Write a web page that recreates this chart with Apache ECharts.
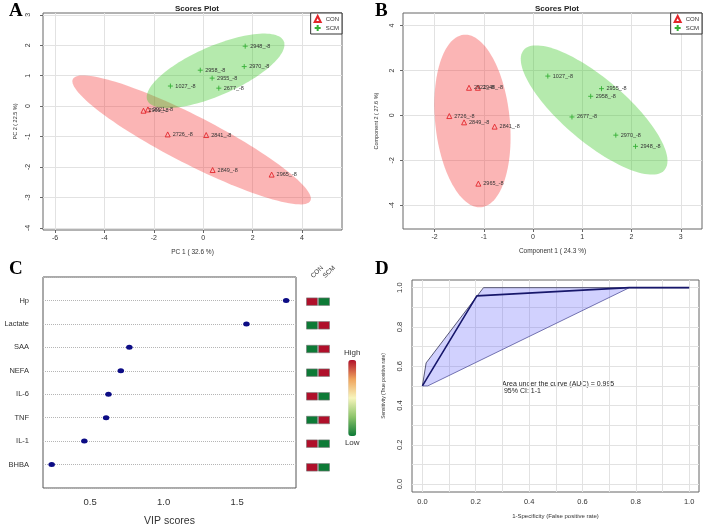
<!DOCTYPE html>
<html>
<head>
<meta charset="utf-8">
<script src="https://cdn.jsdelivr.net/npm/echarts@6/dist/echarts.min.js"></script>
<style>
html, body { margin: 0; padding: 0; background: #fff; }
#main { width: 703px; height: 528px; }
</style>
</head>
<body>
<div id="main"></div>
<script>
// A: PCA scores plot
var pcaConNames = ['2961_-8', '2921_-8', '2726_-8', '2841_-8', '2849_-8', '2965_-8'];
var pcaConX = [-2.42, -2.24, -1.44, 0.12, 0.38, 2.77];
var pcaConY = [-0.15, -0.11, -0.93, -0.95, -2.10, -2.25];
var pcaScmNames = ['2948_-8', '2970_-8', '2958_-8', '2955_-8', '1027_-8', '2677_-8'];
var pcaScmX = [1.70, 1.66, -0.12, 0.36, -1.33, 0.63];
var pcaScmY = [1.97, 1.30, 1.18, 0.92, 0.66, 0.59];
// ellipse = centre x, centre y, semi axis 1 (dx, dy), semi axis 2 (dx, dy)
var pcaConEll = [-0.47, -1.11, 4.81, -2.00, 0.44, 0.70];
var pcaScmEll = [0.50, 1.16, 2.76, 0.975, 0.40, -0.74];
var pcaXTicks = [-6, -4, -2, 0, 2, 4];
var pcaYTicks = [-4, -3, -2, -1, 0, 1, 2, 3];

// B: PLS-DA scores plot
var plsConNames = ['2921_-8', '2948_-8', '2726_-8', '2849_-8', '2841_-8', '2965_-8'];
var plsConX = [-1.30, -1.12, -1.70, -1.40, -0.78, -1.11];
var plsConY = [1.23, 1.23, -0.03, -0.31, -0.50, -3.04];
var plsScmNames = ['1027_-8', '2955_-8', '2958_-8', '2677_-8', '2970_-8', '2948_-8'];
var plsScmX = [0.30, 1.39, 1.17, 0.79, 1.68, 2.08];
var plsScmY = [1.75, 1.19, 0.85, -0.07, -0.88, -1.38];
var plsConEll = [-1.23, -0.25, 0.179, -3.84, 0.753, 0.169];
var plsScmEll = [1.24, 0.24, 1.43, -2.67, 0.416, 1.074];
var plsXTicks = [-2, -1, 0, 1, 2, 3];
var plsYTicks = [-4, -2, 0, 2, 4];

// C: VIP scores
var vipNames = ['Hp', 'Lactate', 'SAA', 'NEFA', 'IL-6', 'TNF', 'IL-1', 'BHBA'];
var vipScores = [1.833, 1.563, 0.767, 0.709, 0.625, 0.609, 0.461, 0.239];
var heatCon = [1, -1, -1, -1, 1, -1, 1, 1];
var heatScm = [-1, 1, 1, 1, -1, 1, -1, -1];
var groups = ['CON', 'SCM'];
var vipTicks = [0.5, 1.0, 1.5];

// D: ROC
var rocFpr = [0, 0.204, 0.776, 1];
var rocTpr = [0.5, 0.958, 1, 1];
var ciUpFpr = [0, 0.014, 0.229, 1];
var ciUpTpr = [0.5, 0.617, 1, 1];
var ciLoFpr = [0, 0.02, 0.776, 1];
var ciLoTpr = [0.5, 0.5, 1, 1];
var rocTicks = [0, 0.2, 0.4, 0.6, 0.8, 1.0];
var rocGrid = [0, 0.1, 0.2, 0.3, 0.4, 0.5, 0.6, 0.7, 0.8, 0.9, 1.0];

var FONT = 'Liberation Sans';
var RED = '#e3262b', GREEN = '#35b035';

function pts(names, xs, ys) {
  return names.map(function (n, i) { return { name: n, value: [xs[i], ys[i]] }; });
}

function ellipse(ai, p, fill) {
  return {
    type: 'custom', xAxisIndex: ai, yAxisIndex: ai, silent: true, z: 1,
    data: [[p[0], p[1]]],
    renderItem: function (params, api) {
      var poly = [];
      for (var i = 0; i < 120; i++) {
        var t = i / 120 * Math.PI * 2;
        poly.push(api.coord([
          p[0] + p[2] * Math.cos(t) + p[4] * Math.sin(t),
          p[1] + p[3] * Math.cos(t) + p[5] * Math.sin(t)
        ]));
      }
      return { type: 'polygon', shape: { points: poly }, style: { fill: fill } };
    }
  };
}

function scoreSeries(ai, name, data) {
  var con = name === 'CON';
  return {
    type: 'scatter', name: name, xAxisIndex: ai, yAxisIndex: ai, z: 3,
    data: data,
    symbol: con ? 'triangle' : 'path://M4,0V8M0,4H8',
    symbolSize: 5,
    itemStyle: { color: 'rgba(0,0,0,0)', borderColor: con ? RED : GREEN, borderWidth: 0.9, opacity: 1 },
    label: { show: true, position: 'right', distance: 2, formatter: '{b}', fontSize: 5.5, color: '#333', fontFamily: FONT },
    emphasis: { disabled: true }
  };
}

function valAxis(gi, min, max, ticks, o) {
  var a = {
    type: 'value', gridIndex: gi, min: min, max: max,
    axisLine: { show: false, onZero: false },
    axisTick: { show: true, length: 3, customValues: ticks, lineStyle: { color: '#666' } },
    axisLabel: { customValues: ticks, fontSize: 7, color: '#333', fontFamily: FONT },
    splitLine: { show: true, lineStyle: { color: '#e2e2e2', width: 1 } },
    nameLocation: 'middle',
    nameTextStyle: { fontSize: 6.5, color: '#333', fontFamily: FONT }
  };
  for (var k in o) {
    if (typeof o[k] === 'object' && a[k]) { for (var j in o[k]) a[k][j] = o[k][j]; }
    else a[k] = o[k];
  }
  return a;
}

var chart = echarts.init(document.getElementById('main'), null, { renderer: 'canvas' });

var heatData = [];
vipNames.forEach(function (n, i) {
  heatData.push([0, i + 1, heatCon[i]]);
  heatData.push([1, i + 1, heatScm[i]]);
});

var fmt1 = function (v) { return v.toFixed(1); };

chart.setOption({
  animation: false,
  backgroundColor: '#fff',
  textStyle: { fontFamily: FONT },
  title: [
    { text: 'Scores Plot', left: 192, top: 0, textAlign: 'center', textStyle: { fontSize: 8, fontWeight: 'bold', color: '#222', fontFamily: FONT } },
    { text: 'Scores Plot', left: 552, top: 0, textAlign: 'center', textStyle: { fontSize: 8, fontWeight: 'bold', color: '#222', fontFamily: FONT } }
  ],
  legend: [
    { data: groups, orient: 'vertical', right: 361, top: 13, itemWidth: 6, itemHeight: 6, itemGap: 1, padding: [2, 3],
      borderColor: '#333', borderWidth: 1, backgroundColor: '#fff', textStyle: { fontSize: 6, color: '#333' }, selectedMode: false },
    { data: groups, orient: 'vertical', right: 1, top: 13, itemWidth: 6, itemHeight: 6, itemGap: 1, padding: [2, 3],
      borderColor: '#333', borderWidth: 1, backgroundColor: '#fff', textStyle: { fontSize: 6, color: '#333' }, selectedMode: false }
  ],
  grid: [
    { left: 43, top: 13, width: 299, height: 217, show: true, borderColor: '#666', borderWidth: 1, backgroundColor: 'transparent' },
    { left: 403, top: 13, width: 299, height: 216, show: true, borderColor: '#666', borderWidth: 1, backgroundColor: 'transparent' },
    { left: 43, top: 277, width: 253, height: 213, show: true, borderColor: '#555', borderWidth: 1, backgroundColor: 'transparent' },
    { left: 306, top: 278, width: 24, height: 213, show: false },
    { left: 412, top: 280, width: 287, height: 212, show: true, borderColor: '#666', borderWidth: 1, backgroundColor: 'transparent' }
  ],
  xAxis: [
    valAxis(0, -6.49, 5.62, pcaXTicks, { name: 'PC 1 ( 32.6 %)', nameGap: 19, axisLabel: { margin: 5 } }),
    valAxis(1, -2.64, 3.43, plsXTicks, { name: 'Component 1 ( 24.3 %)', nameGap: 19, axisLabel: { margin: 5 } }),
    valAxis(2, 0.18, 1.90, vipTicks, {
      name: 'VIP scores', nameGap: 28, nameTextStyle: { fontSize: 10.5, color: '#333' },
      axisTick: { show: false }, splitLine: { show: false },
      axisLabel: { fontSize: 9.5, margin: 9, formatter: fmt1 }
    }),
    { type: 'category', gridIndex: 3, data: groups, position: 'top',
      axisLine: { show: false }, axisTick: { show: false },
      axisLabel: { rotate: 45, interval: 0, hideOverlap: false, fontSize: 6.5, margin: 1, color: '#333', fontFamily: FONT } },
    valAxis(4, -0.039, 1.037, rocGrid, {
      name: '1-Specificity (False positive rate)', nameGap: 21, nameTextStyle: { fontSize: 6 },
      axisTick: { show: false },
      axisLabel: { customValues: rocTicks, fontSize: 7.5, margin: 6, formatter: fmt1 }
    })
  ],
  yAxis: [
    valAxis(0, -4.07, 3.06, pcaYTicks, { name: 'PC 2 ( 22.5 %)', nameGap: 25, nameTextStyle: { fontSize: 5.5 }, axisLabel: { rotate: 90, margin: 11 } }),
    valAxis(1, -5.06, 4.56, plsYTicks, { name: 'Component 2 ( 27.6 %)', nameGap: 24, nameTextStyle: { fontSize: 5.5 }, axisLabel: { rotate: 90, margin: 7.5 } }),
    { type: 'value', gridIndex: 2, min: 0, max: 9, interval: 1, inverse: true,
      axisLine: { show: false, onZero: false }, axisTick: { show: false },
      axisLabel: { fontSize: 7.5, margin: 14, color: '#333', fontFamily: FONT,
        formatter: function (v) { return vipNames[v - 1] || ''; } },
      splitLine: { show: true, lineStyle: { type: 'dotted', color: '#b5b5b5' } } },
    { type: 'value', gridIndex: 3, min: 0, max: 9, inverse: true, show: false },
    valAxis(4, -0.04, 1.039, rocGrid, {
      name: 'Sensitivity (True positive rate)', nameGap: 26, nameTextStyle: { fontSize: 5 },
      axisTick: { show: false },
      axisLabel: { customValues: rocTicks, rotate: 90, fontSize: 7.5, margin: 8.5, formatter: fmt1 }
    })
  ],
  visualMap: {
    type: 'continuous', seriesIndex: 10, dimension: 2, min: -1, max: 1,
    orient: 'vertical', left: 329, top: 334, itemWidth: 8, itemHeight: 76,
    text: ['High', 'Low'], textGap: 3, calculable: false, hoverLink: false,
    textStyle: { fontSize: 8, color: '#333', fontFamily: FONT },
    inRange: { color: ['#0d7a36', '#8cc46a', '#f7f5bc', '#efa35c', '#b00f2a'] }
  },
  graphic: [
    { type: 'text', left: 9, top: 2, style: { text: 'A', font: 'bold 19px "Liberation Serif"', fill: '#000' } },
    { type: 'text', left: 375, top: 2, style: { text: 'B', font: 'bold 19px "Liberation Serif"', fill: '#000' } },
    { type: 'text', left: 9, top: 260, style: { text: 'C', font: 'bold 19px "Liberation Serif"', fill: '#000' } },
    { type: 'text', left: 375, top: 260, style: { text: 'D', font: 'bold 19px "Liberation Serif"', fill: '#000' } },
    { type: 'text', left: 502, top: 381, style: { text: 'Area under the curve (AUC) = 0.995\n 95% CI: 1-1', font: '7px "Liberation Sans"', fill: '#222', lineHeight: 7 } }
  ],
  series: [
    ellipse(0, pcaConEll, 'rgba(245,60,60,0.38)'),
    ellipse(0, pcaScmEll, 'rgba(60,200,40,0.38)'),
    scoreSeries(0, 'CON', pts(pcaConNames, pcaConX, pcaConY)),
    scoreSeries(0, 'SCM', pts(pcaScmNames, pcaScmX, pcaScmY)),
    ellipse(1, plsConEll, 'rgba(245,60,60,0.38)'),
    ellipse(1, plsScmEll, 'rgba(60,200,40,0.38)'),
    scoreSeries(1, 'CON', pts(plsConNames, plsConX, plsConY)),
    scoreSeries(1, 'SCM', pts(plsScmNames, plsScmX, plsScmY)),
    { type: 'scatter', xAxisIndex: 2, yAxisIndex: 2, symbol: 'circle', symbolSize: [6.5, 5],
      itemStyle: { color: '#0c0c85', opacity: 1 }, emphasis: { disabled: true },
      data: vipScores.map(function (v, i) { return [v, i + 1]; }) },
    { type: 'scatter', xAxisIndex: 3, yAxisIndex: 3, silent: true, data: [] },
    { type: 'scatter', xAxisIndex: 3, yAxisIndex: 3, symbol: 'rect', symbolSize: [11, 7.5],
      itemStyle: { borderColor: '#777', borderWidth: 0.6, opacity: 1 }, emphasis: { disabled: true },
      data: heatData },
    { type: 'custom', xAxisIndex: 4, yAxisIndex: 4, silent: true, z: 1,
      data: [[0, 0.5]],
      renderItem: function (params, api) {
        var poly = [];
        ciUpFpr.forEach(function (x, i) { poly.push(api.coord([x, ciUpTpr[i]])); });
        for (var i = ciLoFpr.length - 1; i >= 0; i--) poly.push(api.coord([ciLoFpr[i], ciLoTpr[i]]));
        return { type: 'polygon', shape: { points: poly }, style: { fill: 'rgba(90,90,250,0.28)' } };
      } },
    { type: 'line', xAxisIndex: 4, yAxisIndex: 4, showSymbol: false, silent: true, z: 2,
      lineStyle: { color: '#474766', width: 0.9 },
      data: ciUpFpr.map(function (x, i) { return [x, ciUpTpr[i]]; }) },
    { type: 'line', xAxisIndex: 4, yAxisIndex: 4, showSymbol: false, silent: true, z: 2,
      lineStyle: { color: '#6565a8', width: 0.9 },
      data: ciLoFpr.map(function (x, i) { return [x, ciLoTpr[i]]; }) },
    { type: 'line', xAxisIndex: 4, yAxisIndex: 4, showSymbol: false, silent: true, z: 3,
      lineStyle: { color: '#17176b', width: 1.6 },
      data: rocFpr.map(function (x, i) { return [x, rocTpr[i]]; }) }
  ]
});
</script>
</body>
</html>
